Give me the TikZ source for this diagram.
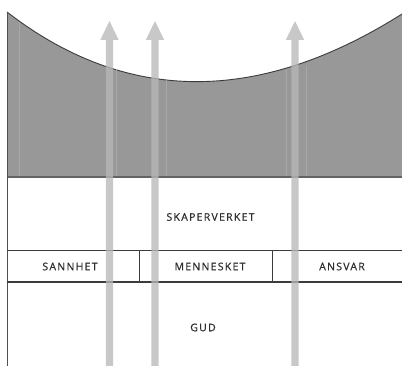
\documentclass[tikz,border=0pt]{standalone}
\usepackage{fontspec}
\setmainfont{Open Sans}[LetterSpace=12, FakeBold=0.6]
\definecolor{grayfill}{RGB}{152,152,152}
\definecolor{edge}{RGB}{60,60,60}
\definecolor{arrowc}{RGB}{184,184,184}
\definecolor{txt}{RGB}{45,45,45}
\definecolor{faint}{RGB}{168,168,168}
\tikzset{
  lbl/.style={inner sep=0pt, text=txt, font=\fontsize{10.5}{12}\selectfont},
  bandline/.style={draw=edge, line width=1.1pt},
  arrowshape/.style={fill=arrowc, fill opacity=0.77},
}
\begin{document}
\begin{tikzpicture}[x=1pt,y=-1pt]
\useasboundingbox (0,0) rectangle (402,366);
\fill[white] (0,0) rectangle (402,366);
% gray dome region
\coordinate (cl) at (7,12);
\coordinate (cr) at (402,14);
\coordinate (gl) at (7,177);
\coordinate (gr) at (402,177);
\fill[grayfill] (cl) .. controls (126,104) and (258,105) .. (cr) -- (gr) -- (gl) -- cycle;
\draw[edge, line width=0.9pt] (cl) .. controls (126,104) and (258,105) .. (cr);
% faint column lines in gray region
\foreach \xx/\yt in {19/22, 116/69, 166/80, 286/70, 306/66}
  \draw[faint, line width=0.8pt] (\xx,\yt) -- (\xx,176);
% bottom edge of gray
\draw[edge!80, line width=1.2pt] (gl) -- (gr);
% left border
\coordinate (lb) at (7,366);
\draw[edge!90, line width=1pt] (cl) -- (lb);
% band
\coordinate (bt1) at (7,250.5);
\coordinate (bt2) at (402,250.5);
\coordinate (bb1) at (7,282);
\coordinate (bb2) at (402,282);
\draw[bandline] (bt1) -- (bt2);
\draw[bandline] (bb1) -- (bb2);
\coordinate (d1t) at (139,250.5);
\coordinate (d1b) at (139,282);
\coordinate (d2t) at (272,250.5);
\coordinate (d2b) at (272,282);
\draw[edge, line width=0.8pt] (d1t) -- (d1b);
\draw[edge, line width=0.8pt] (d2t) -- (d2b);
% labels
\node[lbl] (skap) at (210.5,217) {SKAPERVERKET};
\node[lbl] (sann) at (70,266.5) {SANNHET};
\node[lbl] (menn) at (210,266.5) {MENNESKET};
\node[lbl] (ansv) at (342,266.5) {ANSVAR};
\node[lbl] (gud) at (203,327.5) {GUD};
% arrows
\foreach \ax in {109.5,155,295}
  \fill[arrowshape] (\ax-3.6,366) -- (\ax-3.6,40) -- (\ax-9.2,40) -- (\ax,21) -- (\ax+9.2,40) -- (\ax+3.6,40) -- (\ax+3.6,366) -- cycle;
\end{tikzpicture}
\end{document}
